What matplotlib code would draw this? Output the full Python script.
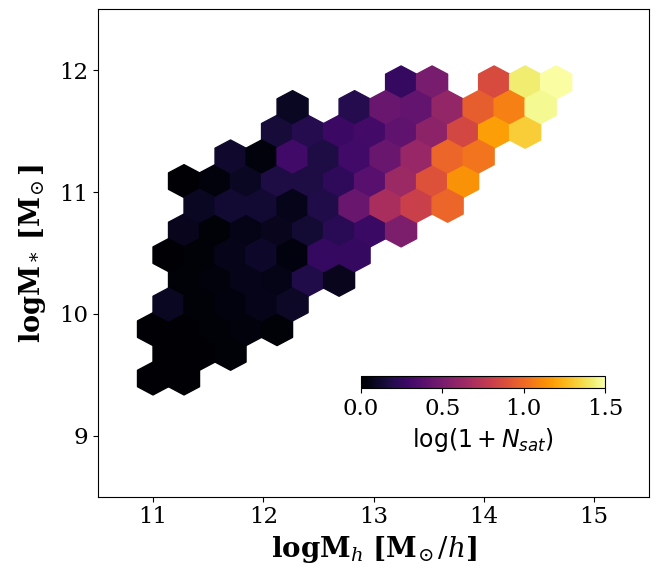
import numpy as np
import matplotlib
matplotlib.use("Agg")
import matplotlib.pyplot as plt

plt.rcParams["font.family"] = "DejaVu Serif"
plt.rcParams["mathtext.fontset"] = "dejavuserif"

# hexbin grid used for the binning (logMh, logM*)
gridsize = (14, 8)
extent = (11.0, 14.938, 9.47, 12.71)

# log(1 + N_sat) per hex, one list per half-row from bottom to top;
# first column index of each row, None = empty cell
row_start = [0, 0, 0, 0, 1, 0, 1, 1, 1, 2, 4, 4, 8]
row_values = [
    [0.01, 0.01],
    [0.01, 0.01, 0.02],
    [0.01, 0.01, 0.02, 0.03, 0.02],
    [0.09, 0.02, 0.04, 0.07, 0.10],
    [0.02, 0.03, 0.07, 0.06, 0.19, 0.08],
    [0.01, 0.02, 0.07, 0.11, 0.04, 0.26, 0.26],
    [0.08, 0.02, 0.06, 0.08, 0.14, 0.22, 0.27, 0.52],
    [0.09, 0.13, 0.13, 0.07, 0.19, 0.44, 0.68, 0.81, 0.99],
    [0.01, 0.03, 0.09, 0.18, 0.18, 0.24, 0.38, 0.63, 0.90, 1.14],
    [0.12, 0.03, 0.30, 0.18, 0.30, 0.44, 0.61, 0.99, 1.04],
    [0.15, 0.20, 0.28, 0.31, 0.41, 0.57, 0.85, 1.18, 1.32],
    [0.09, None, 0.20, 0.44, 0.42, 0.60, 0.96, 1.08, 1.47],
    [0.26, 0.50, None, 0.87, 1.42, 1.49],
]

# bin centres of the hex lattice
sx = (extent[1] - extent[0]) / gridsize[0]
sy = (extent[3] - extent[2]) / gridsize[1]
logmh, logms, nsat = [], [], []
for r, (k0, vals) in enumerate(zip(row_start, row_values)):
    for k, v in enumerate(vals):
        if v is None:
            continue
        logmh.append(extent[0] + (k0 + k + 0.5 * (r % 2)) * sx)
        logms.append(extent[2] + r * sy / 2)
        nsat.append(v)

fig = plt.figure(figsize=(6.57, 5.74), dpi=100)
ax = fig.add_axes([0.149, 0.1347, 0.839, 0.8491])

hb = ax.hexbin(logmh, logms, C=nsat, gridsize=gridsize, extent=extent,
               reduce_C_function=np.mean, cmap="inferno", vmin=0, vmax=1.5)

ax.set_xlim(10.5, 15.5)
ax.set_ylim(8.5, 12.5)
ax.set_xticks([11, 12, 13, 14, 15])
ax.set_yticks([9, 10, 11, 12])
ax.tick_params(labelsize=16.5)
ax.set_xlabel(r"$\mathbf{logM}_h\ \mathbf{[M}_{\!\odot}/h\mathbf{]}$", fontsize=20)
ax.set_ylabel(r"$\mathbf{logM}_*\ \mathbf{[M}_{\!\odot}\mathbf{]}$", fontsize=19.5,
              labelpad=8)

cax = ax.inset_axes([0.477, 0.2224, 0.443, 0.0252])
cb = fig.colorbar(hb, cax=cax, orientation="horizontal")
cb.set_ticks([0.0, 0.5, 1.0, 1.5])
cb.ax.tick_params(labelsize=16.5)
cb.set_label(r"$\log(1+N_{sat})$", fontsize=17, math_fontfamily="dejavusans")

fig.savefig("out.png", dpi=100)
